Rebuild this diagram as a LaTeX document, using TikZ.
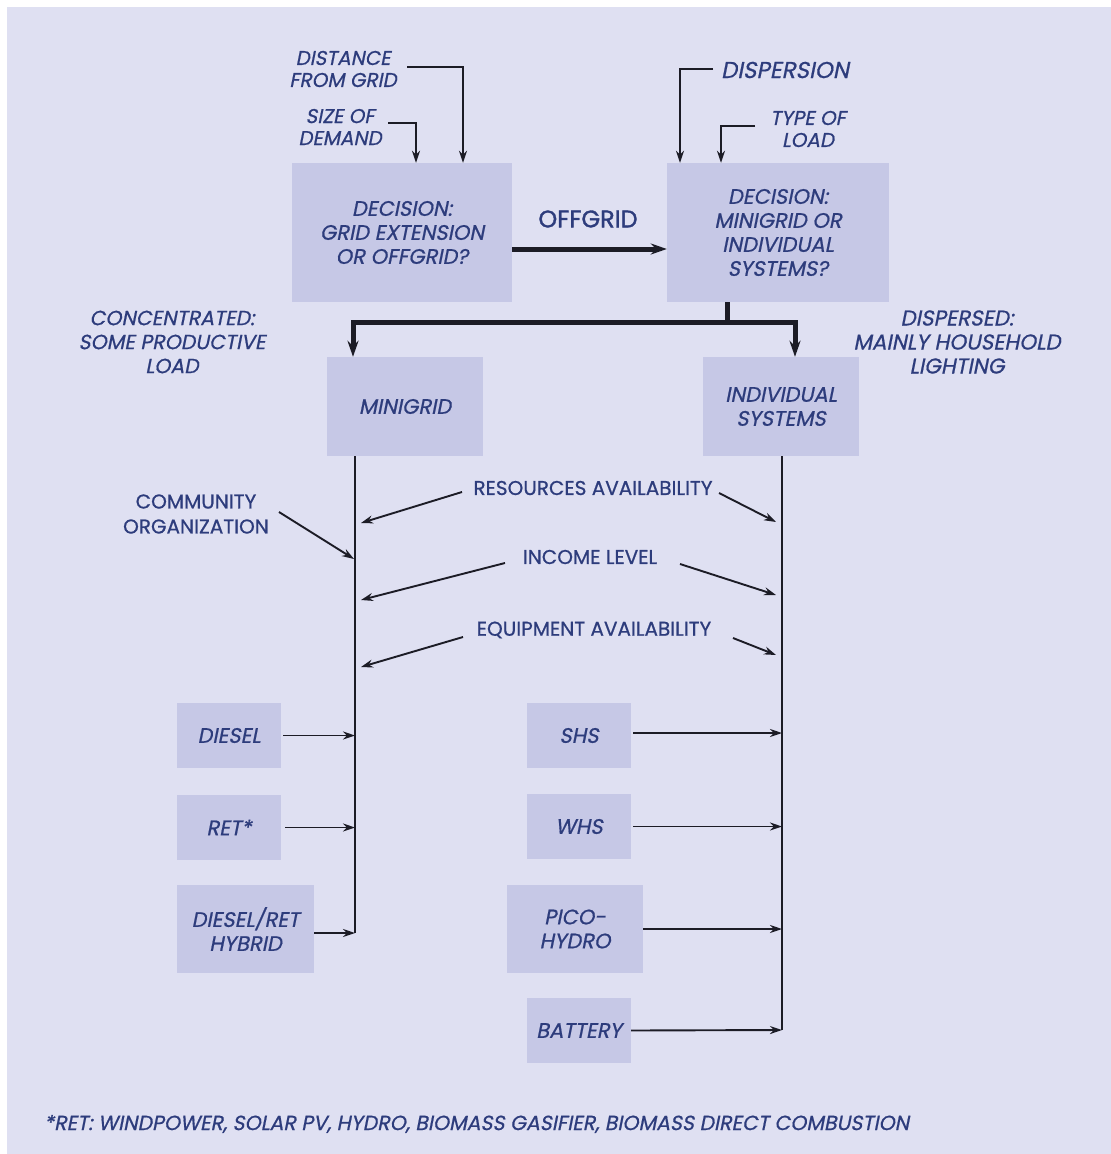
\documentclass[tikz,border=0pt]{standalone}
\usepackage{fontspec}
\setmainfont{Poppins}
\newfontfamily\fup[FakeBold=0.7]{Poppins}
\newfontfamily\fit[FakeSlant=0.2,FakeBold=0.7]{Poppins}
\newfontfamily\fheavy[FakeBold=1.4]{Poppins}
\usetikzlibrary{arrows.meta}
\definecolor{bg}{HTML}{DFE0F2}
\definecolor{boxc}{HTML}{C6C8E6}
\definecolor{ink}{HTML}{2D3C7C}
\definecolor{wirec}{HTML}{1C1C26}
\begin{document}
\begin{tikzpicture}[x=1pt,y=-1pt,
  box/.style={fill=boxc, inner sep=0pt, align=center, text=ink,
    font=\fit\fontsize{21}{24}\selectfont},
  lbl/.style={inner sep=0pt, align=center, text=ink,
    font=\fit\fontsize{20}{22}\selectfont},
  lblup/.style={inner sep=0pt, align=center, text=ink,
    font=\fup\fontsize{20}{25}\selectfont},
  arr/.style={draw=wirec, line width=1.9pt, -{Stealth[length=12pt,width=8pt]}},
  bus/.style={draw=wirec, line width=1.9pt},
  heavy/.style={draw=wirec, line width=5pt},
  heavyarr/.style={heavy, -{Stealth[length=16pt,width=11pt]}},
]
\useasboundingbox (0,0) rectangle (1111,1154);
\fill[bg] (7,7) rectangle (1111,1154);

% decision boxes
\node[box, minimum width=220pt, minimum height=139pt] (A) at (402,232.5)
  {DECISION:\\GRID EXTENSION\\OR OFFGRID?};
\node[box, minimum width=222pt, minimum height=139pt] (B) at (778,232.5)
  {DECISION:\\MINIGRID OR\\INDIVIDUAL\\SYSTEMS?};

% decision inputs
\node[lbl] (dist) at (343,69) {DISTANCE\\FROM GRID};
\node[lbl] (size) at (340,127) {SIZE OF\\DEMAND};
\node[lbl, font=\fit\fontsize{23}{24}\selectfont] (disp) at (785,70) {DISPERSION};
\node[lbl] (type) at (808,129) {TYPE OF\\LOAD};
\draw[arr] ([shift={(64,-2)}]dist.center) -| ([xshift=61pt]A.north);
\draw[arr] ([shift={(48,-4)}]size.center) -| ([xshift=14pt]A.north);
\draw[arr] ([shift={(-72,-1)}]disp.center) -| ([xshift=-98pt]B.north);
\draw[arr] ([shift={(-53,-3)}]type.center) -| ([xshift=-57pt]B.north);

% offgrid link
\node[inner sep=0pt, text=ink, font=\fheavy\fontsize{24}{26}\selectfont] (og) at (588,219) {OFFGRID};
\draw[heavyarr] ([yshift=-16.5pt]A.east) -- ([yshift=-16.5pt]B.west);

% system type boxes
\node[box, minimum width=156pt, minimum height=99pt] (M) at (405,406.5) {MINIGRID};
\node[box, minimum width=156pt, minimum height=99pt] (I) at (781,406.5) {INDIVIDUAL\\SYSTEMS};
\node[lbl, font=\fit\fontsize{20.5}{24}\selectfont] (conc) at (172,342)
  {CONCENTRATED:\\SOME PRODUCTIVE\\LOAD};
\node[lbl, font=\fit\fontsize{21.5}{24}\selectfont] (dispd) at (957,342)
  {DISPERSED:\\MAINLY HOUSEHOLD\\LIGHTING};

\coordinate (j) at (727,322);
\draw[heavy] ([xshift=-51pt]B.south) -- (j);
\draw[heavyarr] (j) -| ([xshift=-52pt]M.north);
\draw[heavyarr] (j) -| ([xshift=14pt]I.north);

% collecting lines
\coordinate (lb) at (355,933);
\coordinate (rb) at (782,1030);
\draw[bus] ([xshift=-50pt]M.south) -- (lb);
\draw[bus] ([xshift=1pt]I.south) -- (rb);

% influencing factors
\node[lblup] (com) at (196,514) {COMMUNITY\\ORGANIZATION};
\node[lblup] (res) at (593,488) {RESOURCES AVAILABILITY};
\node[lblup] (inc) at (590,557) {INCOME LEVEL};
\node[lblup] (equ) at (594,630) {EQUIPMENT AVAILABILITY};

\coordinate (comT) at (354,559);
\coordinate (resL) at (361,523);
\coordinate (resR) at (776,522);
\coordinate (incL) at (361,600);
\coordinate (incR) at (776,595);
\coordinate (equL) at (361,667);
\coordinate (equR) at (776,655);
\draw[arr] ([shift={(83,-2)}]com.center) -- (comT);
\draw[arr] ([shift={(-131,4)}]res.center) -- (resL);
\draw[arr] ([shift={(126,5)}]res.center) -- (resR);
\draw[arr] ([shift={(-85,6)}]inc.center) -- (incL);
\draw[arr] ([shift={(90,7)}]inc.center) -- (incR);
\draw[arr] ([shift={(-131,7)}]equ.center) -- (equL);
\draw[arr] ([shift={(139,8)}]equ.center) -- (equR);

% minigrid sources
\node[box, minimum width=104pt, minimum height=65pt] (diesel) at (229,735.5) {DIESEL};
\node[box, minimum width=104pt, minimum height=65pt] (ret) at (229,827.5) {RET*};
\node[box, minimum width=137pt, minimum height=88pt] (hyb) at (245.5,929) {DIESEL/RET\\HYBRID};
\draw[arr] ([xshift=2pt]diesel.east) -- (diesel.east -| lb);
\draw[arr] ([xshift=4pt]ret.east) -- (ret.east -| lb);
\draw[arr] ([yshift=-4pt]hyb.east) -- (lb);

% individual sources
\node[box, minimum width=104pt, minimum height=65pt] (shs) at (579,735.5) {SHS};
\node[box, minimum width=104pt, minimum height=65pt] (whs) at (579,826.5) {WHS};
\node[box, minimum width=136pt, minimum height=88pt] (pico) at (575,929) {PICO-\\HYDRO};
\node[box, minimum width=104pt, minimum height=65pt] (bat) at (579,1030.5) {BATTERY};
\draw[arr] ([shift={(2,-2.5)}]shs.east) -- ([yshift=2.5pt]shs.east -| rb);
\draw[arr] ([shift={(2,0)}]whs.east) -- (whs.east -| rb);
\draw[arr] (pico.east) -- (pico.east -| rb);
\draw[arr] (bat.east) -- (rb);

% footnote
\node[lbl, anchor=west, font=\fit\fontsize{20.5}{22}\selectfont] (fn) at (44,1124)
  {*RET: WINDPOWER, SOLAR PV, HYDRO, BIOMASS GASIFIER, BIOMASS DIRECT COMBUSTION};
\end{tikzpicture}
\end{document}
